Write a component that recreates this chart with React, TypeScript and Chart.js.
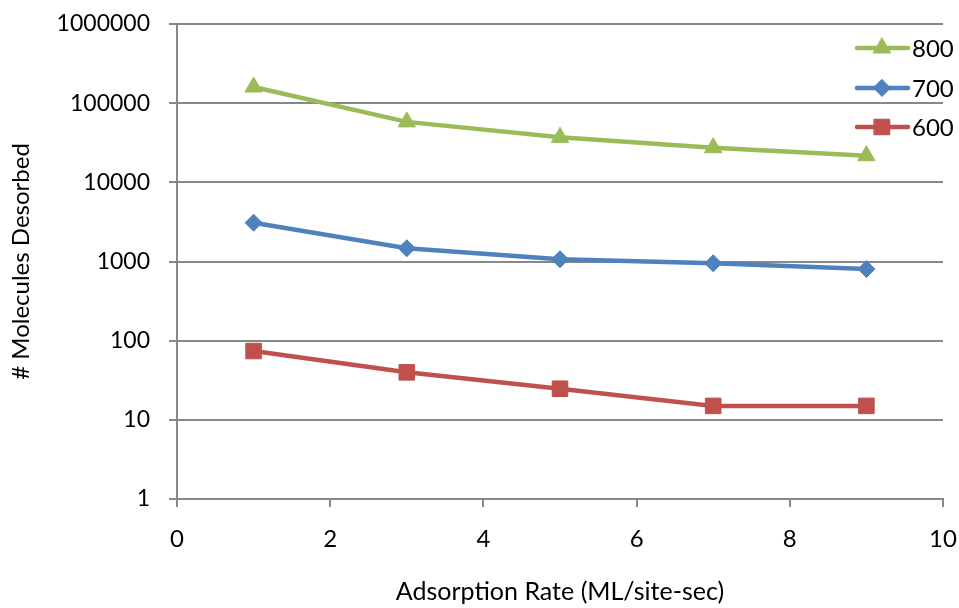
import React, { useEffect, useRef } from "react";
import { Chart, registerables } from "chart.js";

Chart.register(...registerables);

const xValues = [1, 3, 5, 7, 9];
const series800 = [160000, 58000, 37000, 27400, 21700];
const series700 = [3090, 1470, 1067, 950, 804];
const series600 = [74, 39.8, 24.7, 15, 15];
const yTickValues = [1, 10, 100, 1000, 10000, 100000, 1000000];
const xTickValues = [0, 2, 4, 6, 8, 10];

const FONT = "Lato, 'Open Sans', sans-serif";
const GRID = "#888888";
const TEXT = "#000";

function drawMarker(ctx: CanvasRenderingContext2D, style: string, r: number, x: number, y: number) {
  ctx.beginPath();
  if (style === "triangle") {
    ctx.moveTo(x, y - r);
    ctx.lineTo(x + r * Math.sin((2 * Math.PI) / 3), y + r / 2);
    ctx.lineTo(x - r * Math.sin((2 * Math.PI) / 3), y + r / 2);
    ctx.closePath();
  } else if (style === "rectRot") {
    ctx.moveTo(x, y - r);
    ctx.lineTo(x + r, y);
    ctx.lineTo(x, y + r);
    ctx.lineTo(x - r, y);
    ctx.closePath();
  } else {
    const s = Math.SQRT1_2 * r;
    ctx.rect(x - s, y - s, 2 * s, 2 * s);
  }
  ctx.fill();
  ctx.stroke();
}

const legendPlugin = {
  id: "customLegend",
  afterDatasetsDraw(chart: any) {
    const ctx = chart.ctx;
    const ys = [48, 88, 127];
    ctx.save();
    [0, 1, 2].forEach((i) => {
      const ds = chart.data.datasets[i];
      const y = ys[i];
      ctx.strokeStyle = ds.borderColor;
      ctx.lineWidth = ds.borderWidth;
      ctx.lineCap = "round";
      ctx.beginPath();
      ctx.moveTo(857, y);
      ctx.lineTo(908, y);
      ctx.stroke();
      const o = chart.getDatasetMeta(i).data[0].options;
      ctx.fillStyle = o.backgroundColor;
      ctx.strokeStyle = o.borderColor;
      ctx.lineWidth = o.borderWidth;
      drawMarker(ctx, o.pointStyle, o.radius, 882, y);
      ctx.fillStyle = TEXT;
      ctx.font = "24px " + FONT;
      ctx.textAlign = "left";
      ctx.textBaseline = "middle";
      ctx.fillText(ds.label, 912, y + 1);
    });
    ctx.restore();
  },
};

export default function App() {
  const ref = useRef<HTMLCanvasElement>(null);
  useEffect(() => {
    if (!ref.current) return;
    const mk = (arr: number[]) => xValues.map((x, i) => ({ x, y: arr[i] }));
    const chart = new Chart(ref.current, {
      type: "line",
      data: {
        datasets: [
          {
            label: "800",
            data: mk(series800),
            borderColor: "#9BBB59",
            backgroundColor: "#9BBB59",
            borderWidth: 4.5,
            pointStyle: "triangle",
            pointRadius: 10,
            pointBorderWidth: 1,
            pointBorderColor: "#9BBB59",
            pointBackgroundColor: "#9BBB59",
          },
          {
            label: "700",
            data: mk(series700),
            borderColor: "#4F81BD",
            backgroundColor: "#4F81BD",
            borderWidth: 4.5,
            pointStyle: "rectRot",
            pointRadius: 8.5,
            pointBorderWidth: 1,
            pointBorderColor: "#4F81BD",
            pointBackgroundColor: "#4F81BD",
          },
          {
            label: "600",
            data: mk(series600),
            borderColor: "#C0504D",
            backgroundColor: "#C0504D",
            borderWidth: 4.5,
            pointStyle: "rect",
            pointRadius: 11,
            pointBorderWidth: 1,
            pointBorderColor: "#C0504D",
            pointBackgroundColor: "#C0504D",
          },
        ],
      },
      options: {
        responsive: false,
        animation: false,
        layout: { autoPadding: false, padding: { left: 0, right: 16, top: 24, bottom: 0 } },
        plugins: { legend: { display: false }, tooltip: { enabled: false } },
        scales: {
          x: {
            type: "linear",
            min: 0,
            max: 10,
            afterBuildTicks(scale: any) {
              scale.ticks = xTickValues.map((v) => ({ value: v }));
            },
            afterFit(scale: any) {
              scale.height = 109;
              scale.paddingLeft = 0;
              scale.paddingRight = 0;
            },
            grid: { drawOnChartArea: false, color: GRID, tickLength: 8, lineWidth: 2 },
            border: { color: GRID, width: 2 },
            ticks: {
              color: TEXT,
              font: { family: FONT, size: 24 },
              padding: 18,
              maxRotation: 0,
              autoSkip: false,
            },
            title: {
              display: true,
              text: "Adsorption Rate (ML/site-sec)",
              color: TEXT,
              font: { family: FONT, size: 25 },
              padding: { top: 0, bottom: 1 },
            },
          },
          y: {
            type: "logarithmic",
            min: 1,
            max: 1000000,
            afterBuildTicks(scale: any) {
              scale.ticks = yTickValues.map((v) => ({ value: v }));
            },
            afterFit(scale: any) {
              scale.width = 177;
              scale.paddingTop = 0;
              scale.paddingBottom = 0;
            },
            grid: { color: GRID, tickLength: 8, lineWidth: 2 },
            border: { color: GRID, width: 2 },
            ticks: {
              color: TEXT,
              font: { family: FONT, size: 23 },
              padding: 19,
              autoSkip: false,
              callback: (v: any) => String(v),
            },
            title: {
              display: true,
              text: "# Molecules Desorbed",
              color: TEXT,
              font: { family: FONT, size: 24 },
              padding: { top: 7, bottom: 0 },
            },
          },
        },
      },
      plugins: [legendPlugin],
    });
    return () => chart.destroy();
  }, []);
  return (
    <div style={{ position: "absolute", left: 0, top: 0, width: 959, height: 608, background: "#fff" }}>
      <canvas ref={ref} width={959} height={608} style={{ width: 959, height: 608 }} />
    </div>
  );
}
